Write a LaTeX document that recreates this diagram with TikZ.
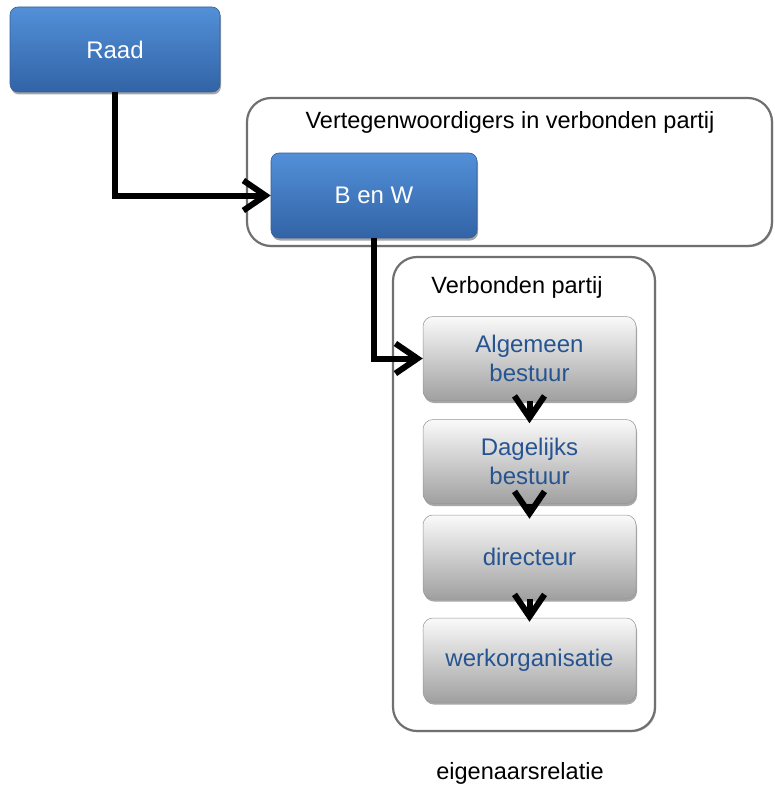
\documentclass[tikz,border=0pt]{standalone}
\usepackage{fontspec}
\setmainfont{Liberation Sans}
\usetikzlibrary{arrows.meta,shadows}

\definecolor{bluetop}{RGB}{82,144,216}
\definecolor{bluebot}{RGB}{50,99,166}
\definecolor{blueedge}{RGB}{52,96,156}
\definecolor{greytop}{RGB}{250,250,250}
\definecolor{greymid}{RGB}{228,228,228}
\definecolor{greybot}{RGB}{160,160,160}
\definecolor{greyedge}{RGB}{150,150,150}
\definecolor{labelblue}{RGB}{38,84,145}
\definecolor{framegrey}{RGB}{112,112,112}

\tikzset{
  bluebox/.style={rectangle, rounded corners=8pt, top color=bluetop, bottom color=bluebot,
    draw=blueedge, line width=0.6pt, text=white, font=\fontsize{24}{28}\selectfont,
    drop shadow={shadow xshift=1pt, shadow yshift=-2.5pt, opacity=0.35, fill=black}},
  greybox/.style={rectangle, rounded corners=10pt, top color=greytop, middle color=greymid,
    bottom color=greybot, draw=greyedge, line width=0.5pt, text=labelblue,
    align=center, font=\fontsize{24}{29}\selectfont,
    minimum width=213pt, minimum height=84pt,
    drop shadow={shadow xshift=1pt, shadow yshift=-2.5pt, opacity=0.35, fill=black}},
  groupframe/.style={rectangle, rounded corners=24pt, draw=framegrey, line width=2.2pt, fill=white,
    drop shadow={shadow xshift=1.2pt, shadow yshift=-1.2pt, opacity=0.25, fill=black}},
  caption/.style={text=black, font=\fontsize{23.5}{28}\selectfont},
  conn/.style={line width=6pt, draw=black, -{Straight Barb[length=22pt, width=30pt]}}
}

\begin{document}
\begin{tikzpicture}[x=1pt, y=-1pt]
  \useasboundingbox (0,0) rectangle (774,789);

  % group frames
  \node[groupframe, minimum width=525pt, minimum height=148pt] (repframe) at (509.5,172) {};
  \node[groupframe, minimum width=262pt, minimum height=474pt] (vpframe) at (524,494) {};

  % frame captions
  \node[caption] (reptitle) at (510,122) {Vertegenwoordigers in verbonden partij};
  \node[caption] (vptitle) at (517,287) {Verbonden partij};
  \node[caption] (owner) at (520,773) {eigenaarsrelatie};

  % blue boxes
  \node[bluebox, minimum width=210pt, minimum height=85pt] (raad) at (115,49.5) {Raad};
  \node[bluebox, minimum width=206pt, minimum height=85pt] (bw) at (374,195.5) {B en W};

  % organisation of the verbonden partij
  \node[greybox] (ab) at (529.5,358.5) {Algemeen\\bestuur};
  \node[greybox] (db) at (529.5,461.5) {Dagelijks\\bestuur};
  \node[greybox] (dir) at (529.5,557) {directeur};
  \node[greybox] (wo) at (529.5,660) {werkorganisatie};

  % connectors
  \draw[conn] (raad.south) |- (bw.west);
  \draw[conn] (bw.south) |- (ab.west);
  \draw[conn, shorten >=-4pt] (ab.south) -- (db.north);
  \draw[conn, shorten >=-4pt] (db.south) -- (dir.north);
  \draw[conn, shorten >=-4pt] (dir.south) -- (wo.north);
\end{tikzpicture}
\end{document}
